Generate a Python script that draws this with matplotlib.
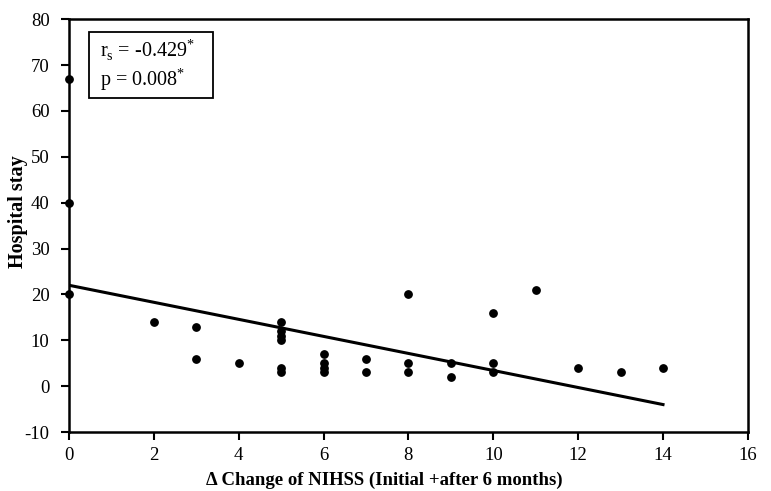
import matplotlib
matplotlib.use("Agg")
import matplotlib.pyplot as plt
from matplotlib.patches import Rectangle

plt.rcParams['font.family'] = ['Liberation Serif', 'DejaVu Serif']
plt.rcParams['mathtext.fontset'] = 'custom'
plt.rcParams['mathtext.rm'] = 'Liberation Serif'
plt.rcParams['axes.unicode_minus'] = False

change_nihss = [0, 0, 0, 2, 3, 3, 4, 5, 5, 5, 5, 5, 5, 6, 6, 6, 6, 7, 7,
                8, 8, 8, 9, 9, 10, 10, 10, 11, 12, 13, 14]
hospital_stay = [67, 40, 20, 14, 13, 6, 5, 14, 12, 11, 10, 4, 3, 7, 5, 4, 3, 6, 3,
                 20, 5, 3, 5, 2, 16, 5, 3, 21, 4, 3, 4]
fit_x = [0, 14]
fit_y = [22, -4]
x_ticks = list(range(0, 17, 2))
y_ticks = list(range(-10, 81, 10))
stat_text = "r$_\\mathregular{s}$ = -0.429$^{*}$\np = 0.008$^{*}$"

fig = plt.figure(figsize=(7.71, 4.91), dpi=100)
ax = fig.add_axes([0.0895, 0.120, 0.8805, 0.841])

ax.scatter(change_nihss, hospital_stay, s=28, color='black', zorder=3, clip_on=False)
ax.plot(fit_x, fit_y, color='black', linewidth=2.2)

ax.set_xlim(0, 16)
ax.set_ylim(-10, 80)
ax.set_xticks(x_ticks)
ax.set_yticks(y_ticks)
for s in ax.spines.values():
    s.set_linewidth(1.8)
ax.tick_params(direction='out', length=6, width=1.5, labelsize=13.5)
ax.tick_params(axis='y', pad=8)
ax.tick_params(axis='x', pad=5)

ax.set_xlabel("\u0394 Change of NIHSS (Initial +after 6 months)", fontsize=13.5,
              fontweight='bold', va='top')
ax.xaxis.set_label_coords(0.464, -0.095)
ax.set_ylabel("Hospital stay", fontsize=14.5, fontweight='bold')
ax.yaxis.set_label_coords(-0.060, 0.535)

ax.add_patch(Rectangle((0.0295, 0.809), 0.1825, 0.1595, transform=ax.transAxes,
                       facecolor='white', edgecolor='black', linewidth=1.3, zorder=4))
ax.text(0.0457, 0.889, stat_text, transform=ax.transAxes, fontsize=14.5,
        va='center', ha='left', linespacing=1.15, zorder=5)

fig.savefig("out.png", dpi=100)
